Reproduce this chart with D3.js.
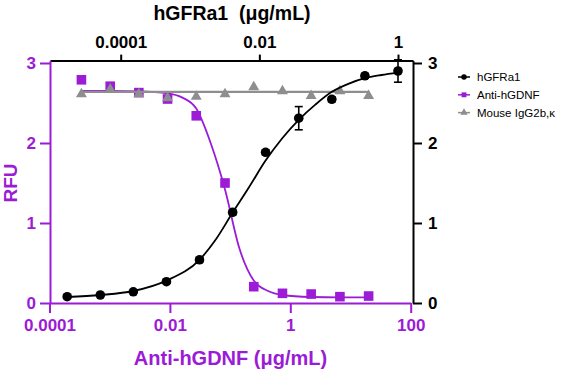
<!DOCTYPE html>
<html>
<head>
<meta charset="utf-8">
<script src="https://cdn.jsdelivr.net/npm/d3@7"></script>
<style>
  body { margin: 0; background: #fff; }
  svg { display: block; font-family: "Liberation Sans", Arial, sans-serif; }
</style>
</head>
<body>
<div id="app"></div>
<script>
// hGFRa1 (top x axis, right y axis), 3-fold dilution from 1 ug/mL
const gfrConc = [0.0000169, 0.0000508, 0.000152, 0.000457, 0.00137, 0.00412, 0.0123, 0.037, 0.111, 0.333, 1];
const gfrRfu = [0.079, 0.10, 0.14, 0.266, 0.54, 1.134, 1.884, 2.31, 2.546, 2.84, 2.90];
const gfrErr = [0.01, 0.01, 0.01, 0.02, 0.03, 0.03, 0.03, 0.145, 0.03, 0.03, 0.14];
// fitted curve
const gfrFitConc = [0.0000169, 0.0000508, 0.000152, 0.000457, 0.00137, 0.00238, 0.00412, 0.00713, 0.0123, 0.0214, 0.037, 0.0642, 0.111, 0.192, 0.333, 0.577, 1];
const gfrFitRfu = [0.075, 0.10, 0.15, 0.28, 0.54, 0.80, 1.13, 1.45, 1.78, 2.06, 2.29, 2.48, 2.64, 2.74, 2.81, 2.85, 2.88];

// Anti-hGDNF and isotype (bottom x axis, left y axis), 3-fold dilution from 20 ug/mL
const abConc = [0.000339, 0.00102, 0.00305, 0.00914, 0.0274, 0.0823, 0.247, 0.741, 2.22, 6.67, 20];
const gdnfRfu = [2.79, 2.71, 2.63, 2.55, 2.34, 1.50, 0.204, 0.121, 0.112, 0.079, 0.087];
const gdnfFitConc = [0.000339, 0.00102, 0.00305, 0.00914, 0.0158, 0.0274, 0.0475, 0.0823, 0.143, 0.247, 0.428, 0.741, 2.22, 6.67, 20];
const gdnfFitRfu = [2.65, 2.65, 2.645, 2.62, 2.57, 2.43, 2.0, 1.42, 0.68, 0.28, 0.15, 0.10, 0.075, 0.07, 0.07];
const isoRfu = [2.61, 2.67, 2.61, 2.56, 2.58, 2.61, 2.70, 2.65, 2.59, 2.65, 2.59];
const isoFitConc = [0.000339, 20];
const isoFitRfu = [2.64, 2.64];

const bottomTicks = [0.0001, 0.01, 1, 100];
const bottomTickLabels = ["0.0001", "0.01", "1", "100"];
const topTicks = [0.0001, 0.01, 1];
const topTickLabels = ["0.0001", "0.01", "1"];
const rfuTicks = [0, 1, 2, 3];

const legendNames = ["hGFRa1", "Anti-hGDNF", "Mouse IgG2b,\u03ba"];

const purple = "#9b1bd6";
const grey = "#8e8e8e";

const width = 568, height = 371;

const svg = d3.select("#app").append("svg")
  .attr("width", width)
  .attr("height", height);

// scales
const xBottom = d3.scaleLog().domain([1e-4, 100]).range([49.5, 410.7]);
const xTop = d3.scaleLog().domain([1e-4, 1]).range([120.7, 398]);
// extend the top axis so its line spans the whole frame
xTop.domain([xTop.invert(50), xTop.invert(413)]).range([50, 413]);
const y = d3.scaleLinear().domain([0, 3.03]).range([303, 60.6]);

// axes
const gBottom = svg.append("g")
  .attr("transform", `translate(0,${y(0)})`)
  .call(d3.axisBottom(xBottom).tickValues(bottomTicks)
    .tickFormat((d, i) => bottomTickLabels[i]).tickSize(10).tickSizeOuter(0).tickPadding(6));
const gTop = svg.append("g")
  .attr("transform", `translate(0,${y(3.03)})`)
  .call(d3.axisTop(xTop).tickValues(topTicks)
    .tickFormat((d, i) => topTickLabels[i]).tickSize(6).tickSizeOuter(0).tickPadding(7));
const gLeft = svg.append("g")
  .attr("transform", `translate(50,0)`)
  .call(d3.axisLeft(y).tickValues(rfuTicks).tickFormat(d3.format("d"))
    .tickSize(10).tickSizeOuter(0).tickPadding(4));
const gRight = svg.append("g")
  .attr("transform", `translate(413,0)`)
  .call(d3.axisRight(y).tickValues(rfuTicks).tickFormat(d3.format("d"))
    .tickSize(9).tickSizeOuter(0).tickPadding(6));

[[gBottom, purple], [gLeft, purple], [gTop, "#000"], [gRight, "#000"]].forEach(([g, c]) => {
  g.selectAll("path, line").attr("stroke", c).attr("stroke-width", 2);
  g.selectAll("text")
    .attr("fill", c)
    .attr("font-size", 17)
    .attr("font-weight", "bold")
    .attr("font-family", "Liberation Sans, Arial, sans-serif");
});

// titles
svg.append("text")
  .attr("x", 232).attr("y", 19.5)
  .attr("text-anchor", "middle")
  .attr("font-size", 19.5).attr("font-weight", "bold")
  .style("white-space", "pre")
  .text("hGFRa1  (\u03bcg/mL)");
svg.append("text")
  .attr("x", 230.5).attr("y", 365)
  .attr("text-anchor", "middle")
  .attr("font-size", 20).attr("font-weight", "bold")
  .attr("fill", purple)
  .text("Anti-hGDNF (\u03bcg/mL)");
svg.append("text")
  .attr("transform", `translate(17,183) rotate(-90)`)
  .attr("text-anchor", "middle")
  .attr("font-size", 19).attr("font-weight", "bold")
  .attr("fill", purple)
  .text("RFU");

const plot = svg.append("g");

// Anti-hGDNF
const lineB = d3.line().x((d) => xBottom(d[0])).y((d) => y(d[1])).curve(d3.curveMonotoneX);
plot.append("path")
  .datum(gdnfFitConc.map((c, i) => [c, gdnfFitRfu[i]]))
  .attr("fill", "none").attr("stroke", purple).attr("stroke-width", 1.8)
  .attr("d", lineB);
plot.selectAll(".sq")
  .data(abConc.map((c, i) => [c, gdnfRfu[i]]))
  .join("rect")
  .attr("class", "sq")
  .attr("x", (d) => xBottom(d[0]) - 4.8)
  .attr("y", (d) => y(d[1]) - 4.8)
  .attr("width", 9.6).attr("height", 9.6)
  .attr("fill", purple);

// isotype
plot.append("path")
  .datum(isoFitConc.map((c, i) => [c, isoFitRfu[i]]))
  .attr("fill", "none").attr("stroke", grey).attr("stroke-width", 2.2)
  .attr("d", d3.line().x((d) => xBottom(d[0])).y((d) => y(d[1])));
plot.selectAll(".tri")
  .data(abConc.map((c, i) => [c, isoRfu[i]]))
  .join("path")
  .attr("class", "tri")
  .attr("transform", (d) => `translate(${xBottom(d[0])},${y(d[1])})`)
  .attr("d", d3.symbol(d3.symbolTriangle, 52))
  .attr("fill", grey);

// hGFRa1
const lineT = d3.line().x((d) => xTop(d[0])).y((d) => y(d[1])).curve(d3.curveMonotoneX);
plot.append("path")
  .datum(gfrFitConc.map((c, i) => [c, gfrFitRfu[i]]))
  .attr("fill", "none").attr("stroke", "#000").attr("stroke-width", 1.8)
  .attr("d", lineT);
const errs = plot.selectAll(".err")
  .data(gfrConc.map((c, i) => [c, gfrRfu[i], gfrErr[i]]))
  .join("g")
  .attr("class", "err")
  .attr("stroke", "#000").attr("stroke-width", 1.6);
errs.append("line")
  .attr("x1", (d) => xTop(d[0])).attr("x2", (d) => xTop(d[0]))
  .attr("y1", (d) => y(d[1] - d[2])).attr("y2", (d) => y(d[1] + d[2]));
errs.append("line")
  .attr("x1", (d) => xTop(d[0]) - 4).attr("x2", (d) => xTop(d[0]) + 4)
  .attr("y1", (d) => y(d[1] - d[2])).attr("y2", (d) => y(d[1] - d[2]));
errs.append("line")
  .attr("x1", (d) => xTop(d[0]) - 4).attr("x2", (d) => xTop(d[0]) + 4)
  .attr("y1", (d) => y(d[1] + d[2])).attr("y2", (d) => y(d[1] + d[2]));
plot.selectAll(".dot")
  .data(gfrConc.map((c, i) => [c, gfrRfu[i]]))
  .join("circle")
  .attr("class", "dot")
  .attr("cx", (d) => xTop(d[0]))
  .attr("cy", (d) => y(d[1]))
  .attr("r", 4.8)
  .attr("fill", "#000");

// legend
const legendColors = ["#000", purple, grey];
const legend = svg.append("g").attr("transform", "translate(458,77)");
const rows = legend.selectAll("g")
  .data(legendNames)
  .join("g")
  .attr("transform", (d, i) => `translate(0,${i * 17.8})`);
rows.append("line")
  .attr("x1", 0).attr("x2", 12)
  .attr("stroke", (d, i) => legendColors[i]).attr("stroke-width", 1.5);
rows.append("path")
  .attr("transform", "translate(6,0)")
  .attr("d", (d, i) => d3.symbol([d3.symbolCircle, d3.symbolSquare, d3.symbolTriangle][i], 24)())
  .attr("fill", (d, i) => legendColors[i]);
rows.append("text")
  .attr("x", 19).attr("dy", "0.35em")
  .attr("font-size", 11.5)
  .text((d) => d);
</script>
</body>
</html>
